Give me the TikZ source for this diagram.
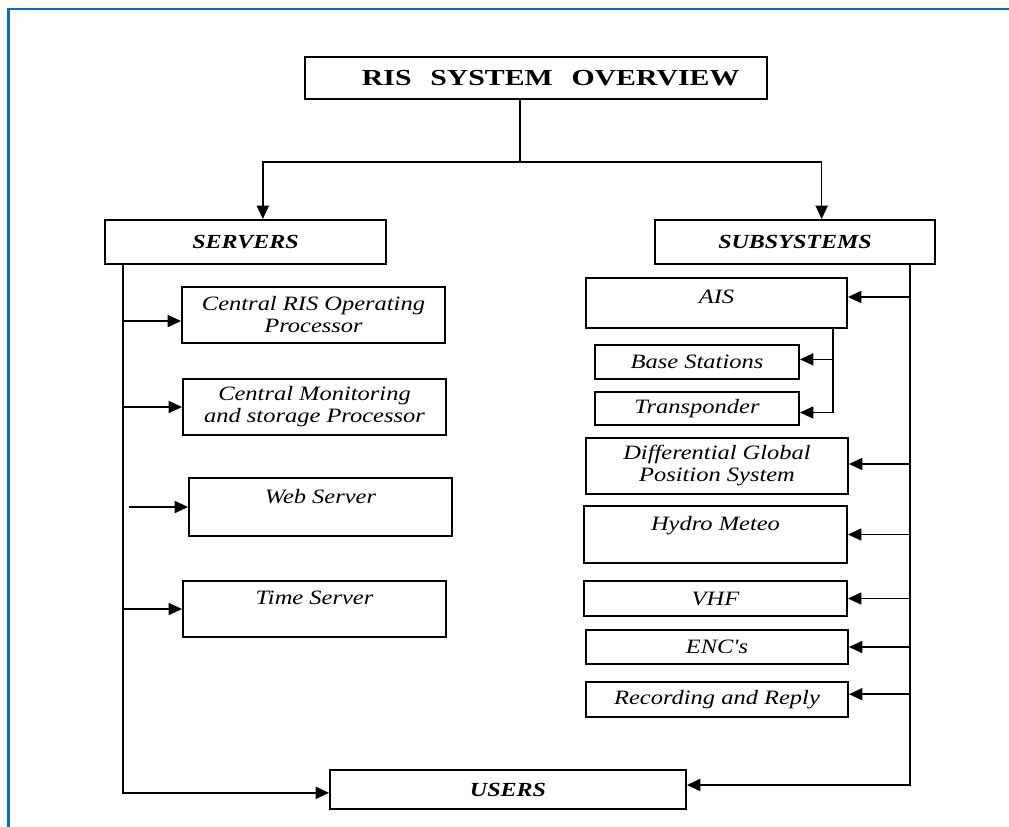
\documentclass[tikz,border=0pt]{standalone}
\usepackage{fontspec}
\usepackage{tikz}
\usetikzlibrary{arrows.meta, positioning}
\newfontfamily\boxfont[FakeStretch=1.2]{Liberation Serif}
\newfontfamily\headfont[FakeStretch=1.3]{Liberation Serif}
\definecolor{azulMoldura}{RGB}{0,112,192}

\begin{document}
\begin{tikzpicture}[
    x=0.75pt, y=-0.75pt,
    box/.style={draw=black, line width=1.4pt, inner sep=0pt, align=center, font=\boxfont\itshape\fontsize{15.3}{16.5}\selectfont},
    head/.style={box, font=\boxfont\bfseries\itshape\fontsize{15}{16.5}\selectfont},
    title/.style={box, font=\headfont\bfseries\fontsize{17.2}{18}\selectfont},
    link/.style={line width=1.2pt, draw=black},
    arrow/.style={link, -{Triangle[length=10pt, width=9pt]}},
    frame/.style={draw=azulMoldura, line width=1.6pt}
]
    \useasboundingbox (0,0) rectangle (1009,826);
    \draw[frame] (1015,9) -- (8.5,9) -- (8.5,832);

    % Topo
    \node[title, minimum width=346.5pt, minimum height=31.5pt] (title) at (536,78) {\hspace*{22pt}RIS\hspace{14pt}SYSTEM\hspace{14pt}OVERVIEW};
    \node[head, minimum width=210.75pt, minimum height=33pt] (servers) at (245.5,242) {SERVERS};
    \node[head, minimum width=210pt, minimum height=33pt] (subsys) at (795,242) {SUBSYSTEMS};

    % Servidores
    \node[box, minimum width=197.25pt, minimum height=42pt] (cris) at (313.5,315) {Central RIS Operating\\Processor};
    \node[box, minimum width=197.25pt, minimum height=42pt] (cmon) at (314.5,407) {Central Monitoring\\and storage Processor};
    \node[box, minimum width=197.25pt, minimum height=43.5pt] (web) at (320.5,507) {Web Server\\~};
    \node[box, minimum width=197.25pt, minimum height=42pt] (time) at (314.5,609) {Time Server\\~};

    % Subsistemas
    \node[box, minimum width=195.75pt, minimum height=37.5pt] (ais) at (716.5,303) {AIS\\[-0.5em]~};
    \node[box, minimum width=153pt, minimum height=25.5pt] (base) at (697,362) {Base Stations};
    \node[box, minimum width=153pt, minimum height=24.75pt] (transp) at (697,408.5) {Transponder};
    \node[box, minimum width=196.5pt, minimum height=42pt] (dgps) at (717,466) {Differential Global\\Position System};
    \node[box, minimum width=197.25pt, minimum height=42.75pt] (hydro) at (715.5,534.5) {Hydro Meteo\\~};
    \node[box, minimum width=197.25pt, minimum height=26.25pt] (vhf) at (715.5,598.5) {VHF};
    \node[box, minimum width=196.5pt, minimum height=25.5pt] (enc) at (717,647) {ENC's};
    \node[box, minimum width=196.5pt, minimum height=26.25pt] (rec) at (717,699.5) {Recording and Reply};

    \node[head, minimum width=267pt, minimum height=29.25pt] (users) at (508,789.5) {USERS};

    % Barramentos
    \coordinate (hub) at (520,162);
    \coordinate (lbus) at (123,0);
    \coordinate (rbus) at (910,0);
    \coordinate (abus) at (833,0);

    % Setas do topo
    \draw[link] ([xshift=-12pt]title.south) -- (hub);
    \draw[arrow] (hub) -| ([xshift=13pt]servers.north);
    \draw[arrow] (hub) -| ([xshift=20pt]subsys.north);

    % Lado esquerdo
    \draw[arrow] (servers.south -| lbus) |- ([yshift=-2.5pt]users.west);
    \foreach \n/\dy in {cris/-4.5pt, cmon/0pt, time/0pt}
        \draw[arrow] ([yshift=\dy]\n.west -| lbus) -- ([yshift=\dy]\n.west);
    \draw[arrow] ([xshift=-44pt]web.west) -- (web.west);

    % Lado direito
    \draw[arrow] (subsys.south -| rbus) |- ([yshift=3.4pt]users.east);
    \foreach \n/\dy in {ais/4.5pt, dgps/1.5pt, hydro/0pt, vhf/0pt, enc/0pt, rec/4pt}
        \draw[arrow] ([yshift=\dy]\n.east -| rbus) -- ([yshift=\dy]\n.east);
    \draw[arrow] (ais.south -| abus) |- ([yshift=2pt]base.east);
    \draw[arrow] (ais.south -| abus) |- ([yshift=-3pt]transp.east);
\end{tikzpicture}
\end{document}
